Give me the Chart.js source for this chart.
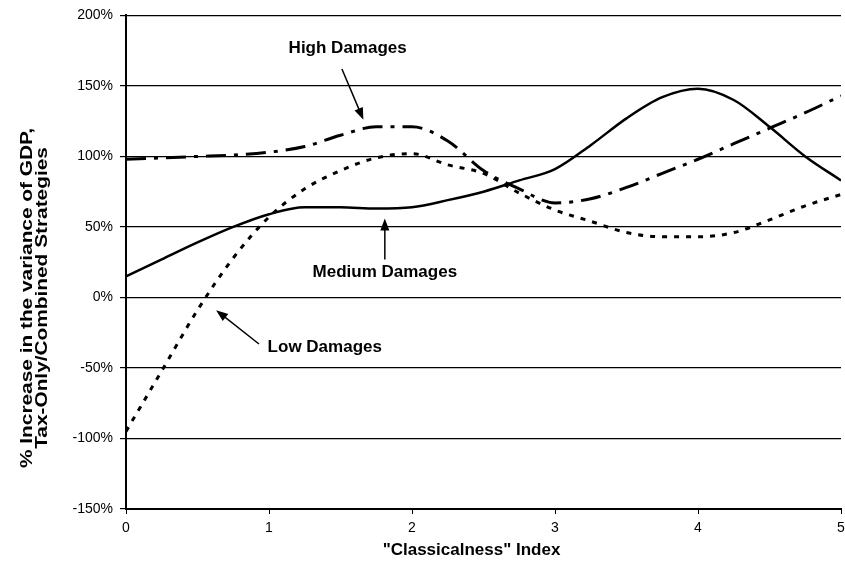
<!DOCTYPE html>
<html lang="en">
  <head>
    <meta charset="UTF-8" />
    <title>Classicalness Index</title>
    <script src="https://cdn.jsdelivr.net/npm/chart.js@4.4.0/dist/chart.umd.min.js"></script>
    <style>
      html, body { margin: 0; padding: 0; background: #fff; }
      #wrap { width: 845px; height: 565px; }
    </style>
  </head>
  <body>
    <div id="wrap"><canvas id="chart" width="845" height="565"></canvas></div>
  </body>
  <script>
    // x positions of the readings (Classicalness index)
    const xValues = [0, 0.25, 0.5, 0.75, 1, 1.25, 1.5, 1.75, 2, 2.25, 2.5, 2.75, 3, 3.25, 3.5, 3.75, 4, 4.25, 4.5, 4.75, 5];

    // % increase in variance of GDP
    const highDamages = [98, 99, 100, 101, 103, 107, 115, 121, 121, 111, 90, 77, 67, 70, 78, 88, 98, 109, 120, 131, 143];
    const mediumDamages = [15, 27, 39, 50, 59, 64, 64, 63, 64, 69, 75, 83, 91, 108, 127, 142, 148, 140, 121, 100, 83];
    const lowDamages = [-95, -52, -9, 28, 57, 77, 90, 99, 102, 94, 88, 74, 62, 54, 46, 43, 43, 46, 55, 65, 73];

    const yTicks = [-150, -100, -50, 0, 50, 100, 150, 200];

    const xTitle = '"Classicalness" Index';
    const yTitle = ["% Increase in the variance of GDP,", "Tax-Only/Combined Strategies"];

    // annotation labels and arrows, in data units
    const notes = [
      { text: "High Damages", at: [1.55, 177], arrow: [1.51, 162, 1.66, 126] },
      { text: "Medium Damages", at: [1.81, 17.5], arrow: [1.81, 27, 1.81, 56] },
      { text: "Low Damages", at: [1.39, -35], arrow: [0.93, -33, 0.63, -9] },
    ];

    const FONT = "Arial, 'Liberation Sans', sans-serif";

    const toPoints = (ys) => xValues.map((x, i) => ({ x: x, y: ys[i] }));

    const notesPlugin = {
      id: "notes",
      afterDatasetsDraw(chart) {
        const c = chart.ctx;
        const sx = chart.scales.x;
        const sy = chart.scales.y;
        c.save();
        c.fillStyle = "#000";
        c.strokeStyle = "#000";
        c.font = "bold 17px " + FONT;
        c.textAlign = "center";
        c.textBaseline = "middle";
        notes.forEach((n) => {
          c.fillText(n.text, sx.getPixelForValue(n.at[0]), sy.getPixelForValue(n.at[1]));
          const x1 = sx.getPixelForValue(n.arrow[0]);
          const y1 = sy.getPixelForValue(n.arrow[1]);
          const x2 = sx.getPixelForValue(n.arrow[2]);
          const y2 = sy.getPixelForValue(n.arrow[3]);
          const a = Math.atan2(y2 - y1, x2 - x1);
          c.lineWidth = 1.5;
          c.beginPath();
          c.moveTo(x1, y1);
          c.lineTo(x2 - 8 * Math.cos(a), y2 - 8 * Math.sin(a));
          c.stroke();
          c.beginPath();
          c.moveTo(x2, y2);
          c.lineTo(x2 - 12 * Math.cos(a) + 4.5 * Math.sin(a), y2 - 12 * Math.sin(a) - 4.5 * Math.cos(a));
          c.lineTo(x2 - 12 * Math.cos(a) - 4.5 * Math.sin(a), y2 - 12 * Math.sin(a) + 4.5 * Math.cos(a));
          c.closePath();
          c.fill();
        });

        // axis titles (the scanned original has somewhat stretched lettering)
        const area = chart.chartArea;
        c.font = "bold 17px " + FONT;
        c.fillText(xTitle, (area.left + area.right) / 2 - 12, 550);

        c.save();
        c.translate(35.5, 298);
        c.rotate(-Math.PI / 2);
        c.font = "bold 16px " + FONT;
        const k = 340 / c.measureText(yTitle[0]).width;
        c.scale(k, 1);
        c.fillText(yTitle[0], 0, -7.5);
        c.fillText(yTitle[1], 0, 7.5);
        c.restore();

        c.restore();
      },
    };

    const ctx = document.getElementById("chart").getContext("2d");

    new Chart(ctx, {
      type: "line",
      data: {
        datasets: [
          {
            label: "High Damages",
            data: toPoints(highDamages),
            borderColor: "#000",
            borderWidth: 3,
            borderDash: [20, 8, 4, 8],
            pointRadius: 0,
            fill: false,
          },
          {
            label: "Medium Damages",
            data: toPoints(mediumDamages),
            borderColor: "#000",
            borderWidth: 2.5,
            pointRadius: 0,
            fill: false,
          },
          {
            label: "Low Damages",
            data: toPoints(lowDamages),
            borderColor: "#000",
            borderWidth: 3,
            borderDash: [5, 7],
            pointRadius: 0,
            fill: false,
          },
        ],
      },
      options: {
        responsive: false,
        animation: false,
        cubicInterpolationMode: "monotone",
        layout: { padding: { top: 14, right: 4, left: 0, bottom: 0 } },
        plugins: {
          legend: { display: false },
          tooltip: { enabled: false },
        },
        scales: {
          x: {
            type: "linear",
            min: 0,
            max: 5,
            border: { color: "#000", width: 2 },
            grid: { display: true, drawOnChartArea: false, color: "#000", tickLength: 5 },
            ticks: {
              stepSize: 1,
              color: "#000",
              font: { family: FONT, size: 14 },
              padding: 6,
              maxRotation: 0,
            },
            afterFit(scale) {
              scale.height = 56;
              scale.paddingRight = 0;
            },
          },
          y: {
            min: -150,
            max: 200,
            border: { color: "#000", width: 2 },
            grid: { color: "#000", lineWidth: 1.2, tickLength: 6 },
            afterBuildTicks(scale) {
              scale.ticks = yTicks.map((v) => ({ value: v }));
            },
            ticks: {
              color: "#000",
              font: { family: FONT, size: 14 },
              padding: 7,
              callback: (v) => v + "%",
            },
            afterFit(scale) {
              scale.width = 126;
            },
          },
        },
      },
      plugins: [notesPlugin],
    });
  </script>
</html>
